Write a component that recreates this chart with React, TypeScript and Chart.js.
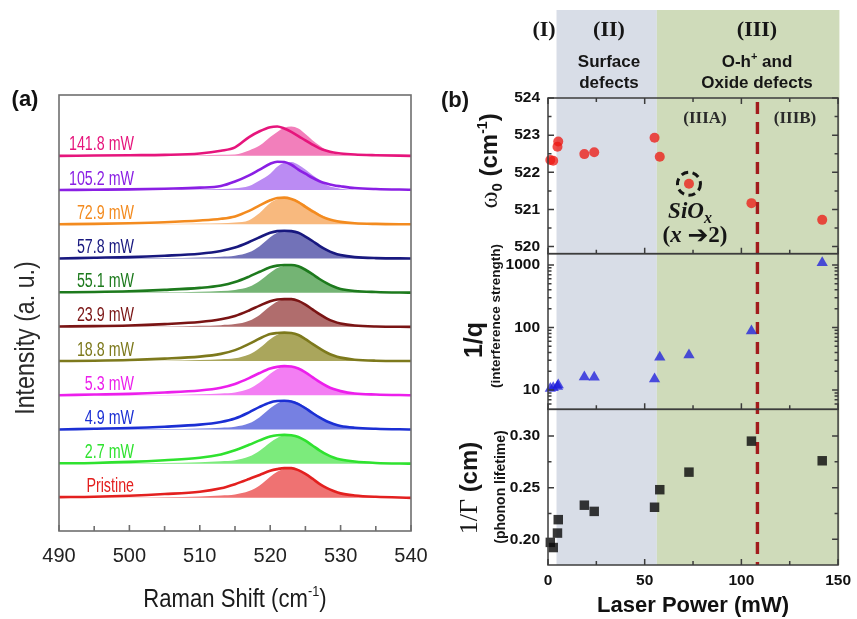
import React, { useEffect, useRef } from 'react';
import { Chart, registerables } from 'chart.js';

Chart.register(...registerables);

const W = 857;
const H = 619;

// ================= Panel (a): Raman spectra =================
const ramanShift = [490, 495, 500, 505, 510, 513, 515, 517, 518.5, 520, 521, 522, 523, 524, 525, 526, 527, 528, 529, 530, 532, 535, 540];
const ramanTicks = [490, 500, 510, 520, 530, 540];
const ramanMinorTicks = [495, 505, 515, 525, 535];

const traceLabels = ['Pristine', '2.7 mW', '4.9 mW', '5.3 mW', '18.8 mW', '23.9 mW', '55.1 mW', '57.8 mW', '72.9 mW', '105.2 mW', '141.8 mW'];
const traceLineColors = ['#e3201f', '#2fe22f', '#1b2fd4', '#ec1fec', '#7d791c', '#7a1414', '#1d7a1d', '#18187f', '#f38b1f', '#8a1fe4', '#e6157c'];
const traceFillColors = ['#ef7272', '#7ceb7c', '#7680e2', '#f37ef3', '#aaa65c', '#b06d6d', '#74b474', '#7272b8', '#f8b97e', '#bb8bf3', '#f27fbb'];

// measured spectra (line) and fitted components (filled), in units of trace spacing
const specPristine = [0.02, 0.03, 0.06, 0.11, 0.18, 0.28, 0.40, 0.55, 0.67, 0.79, 0.84, 0.87, 0.87, 0.81, 0.70, 0.56, 0.41, 0.29, 0.20, 0.13, 0.07, 0.03, 0.00];
const fitPristine = [0.00, 0.01, 0.01, 0.02, 0.04, 0.07, 0.10, 0.20, 0.36, 0.62, 0.76, 0.85, 0.87, 0.82, 0.71, 0.57, 0.42, 0.29, 0.19, 0.12, 0.05, 0.02, 0.00];
const spec2p7 = [0.01, 0.02, 0.05, 0.10, 0.17, 0.27, 0.39, 0.55, 0.68, 0.79, 0.83, 0.84, 0.83, 0.78, 0.67, 0.53, 0.39, 0.27, 0.18, 0.12, 0.06, 0.02, 0.00];
const fit2p7 = [0.00, 0.00, 0.01, 0.02, 0.04, 0.07, 0.10, 0.21, 0.38, 0.62, 0.75, 0.83, 0.84, 0.80, 0.69, 0.55, 0.41, 0.28, 0.18, 0.11, 0.05, 0.02, 0.00];
const spec4p9 = [0.00, 0.02, 0.04, 0.08, 0.14, 0.22, 0.32, 0.50, 0.66, 0.79, 0.83, 0.84, 0.82, 0.74, 0.62, 0.48, 0.35, 0.24, 0.16, 0.10, 0.05, 0.02, 0.00];
const fit4p9 = [0.00, 0.00, 0.01, 0.01, 0.03, 0.05, 0.08, 0.18, 0.36, 0.62, 0.76, 0.83, 0.84, 0.78, 0.66, 0.52, 0.38, 0.26, 0.17, 0.10, 0.04, 0.01, 0.00];
const spec5p3 = [0.00, 0.02, 0.04, 0.08, 0.14, 0.22, 0.33, 0.50, 0.65, 0.78, 0.83, 0.85, 0.84, 0.78, 0.67, 0.53, 0.39, 0.27, 0.18, 0.12, 0.05, 0.02, 0.00];
const fit5p3 = [0.00, 0.00, 0.01, 0.01, 0.03, 0.05, 0.08, 0.19, 0.37, 0.63, 0.77, 0.84, 0.85, 0.80, 0.69, 0.55, 0.40, 0.28, 0.18, 0.11, 0.04, 0.01, 0.00];
const spec18p8 = [0.00, 0.01, 0.03, 0.07, 0.13, 0.21, 0.32, 0.50, 0.66, 0.79, 0.82, 0.83, 0.82, 0.76, 0.64, 0.50, 0.37, 0.25, 0.16, 0.10, 0.04, 0.01, 0.00];
const fit18p8 = [0.00, 0.00, 0.00, 0.01, 0.03, 0.05, 0.08, 0.19, 0.38, 0.64, 0.77, 0.82, 0.83, 0.78, 0.66, 0.52, 0.38, 0.26, 0.17, 0.10, 0.04, 0.01, 0.00];
const spec23p9 = [0.01, 0.02, 0.04, 0.08, 0.14, 0.22, 0.32, 0.48, 0.62, 0.75, 0.80, 0.81, 0.81, 0.76, 0.65, 0.51, 0.37, 0.25, 0.16, 0.10, 0.04, 0.01, 0.00];
const fit23p9 = [0.00, 0.00, 0.01, 0.01, 0.03, 0.05, 0.08, 0.18, 0.35, 0.60, 0.74, 0.80, 0.81, 0.78, 0.67, 0.53, 0.39, 0.27, 0.17, 0.10, 0.04, 0.01, 0.00];
const spec55p1 = [0.01, 0.02, 0.04, 0.08, 0.14, 0.21, 0.31, 0.47, 0.61, 0.74, 0.79, 0.81, 0.81, 0.77, 0.67, 0.54, 0.40, 0.28, 0.18, 0.11, 0.05, 0.02, 0.00];
const fit55p1 = [0.00, 0.00, 0.01, 0.01, 0.03, 0.05, 0.08, 0.17, 0.34, 0.58, 0.72, 0.79, 0.81, 0.78, 0.69, 0.56, 0.42, 0.29, 0.19, 0.11, 0.05, 0.01, 0.00];
const spec57p8 = [0.00, 0.02, 0.04, 0.08, 0.14, 0.22, 0.32, 0.48, 0.62, 0.75, 0.80, 0.81, 0.80, 0.75, 0.64, 0.51, 0.37, 0.25, 0.16, 0.10, 0.04, 0.01, 0.00];
const fit57p8 = [0.00, 0.00, 0.01, 0.01, 0.03, 0.05, 0.08, 0.18, 0.36, 0.62, 0.75, 0.80, 0.81, 0.76, 0.65, 0.52, 0.38, 0.26, 0.17, 0.10, 0.04, 0.01, 0.00];
const spec72p9 = [0.00, 0.01, 0.03, 0.06, 0.11, 0.16, 0.23, 0.39, 0.55, 0.70, 0.77, 0.78, 0.74, 0.65, 0.51, 0.38, 0.26, 0.17, 0.11, 0.07, 0.03, 0.01, 0.00];
const fit72p9 = [0.00, 0.00, 0.00, 0.01, 0.02, 0.03, 0.05, 0.12, 0.33, 0.62, 0.73, 0.78, 0.76, 0.68, 0.56, 0.43, 0.30, 0.20, 0.12, 0.07, 0.02, 0.00, 0.00];
const spec105p2 = [0.00, 0.01, 0.02, 0.04, 0.07, 0.12, 0.25, 0.43, 0.60, 0.77, 0.83, 0.82, 0.74, 0.60, 0.48, 0.36, 0.26, 0.19, 0.14, 0.11, 0.06, 0.03, 0.01];
const fit105p2 = [0.00, 0.00, 0.00, 0.01, 0.02, 0.03, 0.05, 0.12, 0.28, 0.48, 0.68, 0.80, 0.82, 0.74, 0.60, 0.44, 0.30, 0.15, 0.08, 0.04, 0.01, 0.00, 0.00];
const spec141p8 = [0.00, 0.01, 0.02, 0.03, 0.07, 0.15, 0.25, 0.55, 0.72, 0.84, 0.86, 0.80, 0.70, 0.58, 0.45, 0.33, 0.22, 0.15, 0.10, 0.07, 0.04, 0.02, 0.00];
const fit141p8 = [0.00, 0.00, 0.00, 0.01, 0.02, 0.03, 0.04, 0.16, 0.30, 0.55, 0.70, 0.82, 0.86, 0.80, 0.64, 0.46, 0.30, 0.16, 0.07, 0.03, 0.01, 0.00, 0.00];

const spectra = [specPristine, spec2p7, spec4p9, spec5p3, spec18p8, spec23p9, spec55p1, spec57p8, spec72p9, spec105p2, spec141p8];
const fits = [fitPristine, fit2p7, fit4p9, fit5p3, fit18p8, fit23p9, fit55p1, fit57p8, fit72p9, fit105p2, fit141p8];

// ================= Panel (b): fit parameters vs laser power =================
const laserPower = [1.2, 2.7, 4.9, 5.3, 18.8, 23.9, 55.1, 57.8, 72.9, 105.2, 141.8];
const omega0 = [522.33, 522.31, 522.69, 522.83, 522.49, 522.54, 522.93, 522.42, 521.69, 521.17, 520.72];
const inverseQ = [10.6, 10.9, 11.4, 12.0, 16.2, 16.0, 15.0, 33.4, 36.3, 88, 1090];
const inverseGamma = [0.197, 0.192, 0.206, 0.219, 0.233, 0.227, 0.231, 0.248, 0.265, 0.295, 0.276];

const powerTicks = [0, 50, 100, 150];
const powerMinorTicks = [25, 75, 125];
const omegaTicks = [520, 521, 522, 523, 524];
const omegaMinorTicks = [520.5, 521.5, 522.5, 523.5];
const qTicks = [10, 100, 1000];
const qMinorTicks = [5, 6, 7, 8, 9, 20, 30, 40, 50, 60, 70, 80, 90, 200, 300, 400, 500, 600, 700, 800, 900];
const gammaTicks = [0.2, 0.25, 0.3];
const gammaMinorTicks = [0.225, 0.275];
const regionEdges = [4.4, 56.3, 150.7];
const regimeSplit = 108.3;
const highlightIndex = 8;

const SANS = '"Liberation Sans", Arial, sans-serif';
const SERIF = '"Liberation Serif", "Times New Roman", serif';

function fontAvailable(name: string) {
  const c = document.createElement('canvas').getContext('2d') as CanvasRenderingContext2D;
  const s = 'abcdefghijklmnopqrstuvwxyz0123456789 ABCDEFGHIJ';
  c.font = '40px monospace';
  const a = c.measureText(s).width;
  c.font = `40px "${name}", monospace`;
  const b = c.measureText(s).width;
  return Math.abs(a - b) > 0.5;
}

type Seg = { t: string; f: string; dy?: number };
function drawRich(ctx: CanvasRenderingContext2D, x: number, y: number, rot: number, segs: Seg[], color = '#151515', sx = 1) {
  ctx.save();
  ctx.translate(x, y);
  ctx.rotate(rot);
  ctx.scale(sx, 1);
  ctx.fillStyle = color;
  ctx.textBaseline = 'alphabetic';
  ctx.textAlign = 'left';
  let total = 0;
  for (const s of segs) { ctx.font = s.f; total += ctx.measureText(s.t).width; }
  let cx = -total / 2;
  for (const s of segs) {
    ctx.font = s.f;
    ctx.fillText(s.t, cx, s.dy || 0);
    cx += ctx.measureText(s.t).width;
  }
  ctx.restore();
}

export default function App() {
  const refA = useRef<HTMLCanvasElement>(null);
  const refB = useRef<HTMLCanvasElement>(null);

  useEffect(() => {
    const hasNarrow = fontAvailable('Liberation Sans Narrow');
    const NARROW = hasNarrow ? '"Liberation Sans Narrow", "Liberation Sans", sans-serif' : SANS;
    const nsx = hasNarrow ? 1 : 0.82;

    // ---------- chart (a) ----------
    const datasetsA: any[] = [];
    spectra.forEach((arr, i) => {
      datasetsA.push({
        label: traceLabels[i],
        data: ramanShift.map((x, k) => ({ x, y: i + arr[k] })),
        borderColor: traceLineColors[i],
        borderWidth: 2.6,
        pointRadius: 0,
        fill: false,
        cubicInterpolationMode: 'monotone',
        order: 0,
      });
    });
    fits.forEach((arr, i) => {
      datasetsA.push({
        label: traceLabels[i] + ' fit',
        data: ramanShift.map((x, k) => ({ x, y: i + arr[k] })),
        borderColor: 'rgba(0,0,0,0)',
        borderWidth: 0,
        backgroundColor: traceFillColors[i],
        pointRadius: 0,
        fill: { value: i },
        cubicInterpolationMode: 'monotone',
        order: 1,
      });
    });

    const plotA = {
      id: 'plotA',
      afterDraw(chart: any) {
        const { ctx, chartArea: ca, scales } = chart;
        const x = scales.x, y = scales.y;
        ctx.save();
        ctx.strokeStyle = '#6f6f6f';
        ctx.lineWidth = 1.6;
        ctx.strokeRect(ca.left, ca.top, ca.right - ca.left, ca.bottom - ca.top);
        ctx.beginPath();
        for (const v of ramanTicks) { const px = x.getPixelForValue(v); ctx.moveTo(px, ca.bottom); ctx.lineTo(px, ca.bottom - 6); }
        for (const v of ramanMinorTicks) { const px = x.getPixelForValue(v); ctx.moveTo(px, ca.bottom); ctx.lineTo(px, ca.bottom - 5); }
        ctx.stroke();
        // trace labels
        traceLabels.forEach((t, i) => {
          const py = y.getPixelForValue(i) - 5.5;
          ctx.save();
          ctx.translate(134, py);
          ctx.scale(0.87 * nsx, 1);
          ctx.font = `20px ${NARROW}`;
          ctx.textAlign = 'right';
          ctx.textBaseline = 'alphabetic';
          ctx.fillStyle = traceLineColors[i];
          ctx.fillText(t, 0, 0);
          ctx.restore();
        });
        // axis titles
        drawRich(ctx, 34, 338, -Math.PI / 2, [{ t: 'Intensity (a. u.)', f: `27px ${NARROW}` }], '#2a2a2a', hasNarrow ? 1 : 0.86);
        drawRich(ctx, 235, 607, 0, [
          { t: 'Raman Shift (cm', f: `26px ${NARROW}` },
          { t: '-1', f: `15px ${NARROW}`, dy: -11 },
          { t: ')', f: `26px ${NARROW}` },
        ], '#1a1a1a', hasNarrow ? 1 : 0.85);
        drawRich(ctx, 25, 106, 0, [{ t: '(a)', f: `bold 22px ${SANS}` }], '#111');
        ctx.restore();
      },
    };

    const chartA = new Chart(refA.current as HTMLCanvasElement, {
      type: 'line',
      data: { datasets: datasetsA },
      options: {
        responsive: false,
        animation: false,
        devicePixelRatio: 1,
        events: [],
        layout: { padding: { left: 59, top: 95, right: 446, bottom: 0 } },
        plugins: { legend: { display: false }, tooltip: { enabled: false } },
        scales: {
          x: {
            type: 'linear',
            min: 490,
            max: 540,
            afterBuildTicks: (s: any) => { s.ticks = ramanTicks.map((v) => ({ value: v })); },
            ticks: { font: { family: NARROW, size: hasNarrow ? 22 : 20 }, color: '#222', padding: 13, autoSkip: false, maxRotation: 0 },
            grid: { display: false, drawTicks: false },
            border: { display: false },
            afterFit: (s: any) => { s.height = 88; },
          },
          y: {
            type: 'linear',
            display: false,
            min: -0.97,
            max: 11.78,
          },
        },
      } as any,
      plugins: [plotA],
    });

    // ---------- chart (b) ----------
    const plotB = {
      id: 'plotB',
      beforeDraw(chart: any) {
        const { ctx, chartArea: ca, scales } = chart;
        const x = scales.x;
        const a = x.getPixelForValue(regionEdges[0]);
        const b = x.getPixelForValue(regionEdges[1]);
        const c = x.getPixelForValue(regionEdges[2]);
        ctx.save();
        ctx.fillStyle = '#d8dde7';
        ctx.fillRect(a, 10, b - a, ca.bottom - 10);
        ctx.fillStyle = '#cfdbba';
        ctx.fillRect(b, 10, c - b, ca.bottom - 10);
        ctx.restore();
      },
      beforeDatasetsDraw(chart: any) {
        const { ctx, chartArea: ca, scales } = chart;
        const px = scales.x.getPixelForValue(regimeSplit);
        ctx.save();
        ctx.strokeStyle = '#a21c1c';
        ctx.lineWidth = 3.4;
        ctx.setLineDash([12, 8]);
        ctx.lineDashOffset = -4;
        ctx.beginPath();
        ctx.moveTo(px, ca.top);
        ctx.lineTo(px, ca.bottom);
        ctx.stroke();
        ctx.restore();
      },
      afterDatasetsDraw(chart: any) {
        const { ctx, chartArea: ca, scales } = chart;
        const x = scales.x;
        const panels = [
          { s: scales.yW, major: omegaTicks, minor: omegaMinorTicks },
          { s: scales.yQ, major: qTicks, minor: qMinorTicks },
          { s: scales.yG, major: gammaTicks, minor: gammaMinorTicks },
        ];
        ctx.save();
        ctx.strokeStyle = '#3c3c3c';
        ctx.lineWidth = 1.5;
        panels.forEach((p, idx) => {
          const top = p.s.top, bot = p.s.bottom;
          ctx.strokeRect(ca.left, top, ca.right - ca.left, bot - top);
          ctx.beginPath();
          for (const v of powerTicks) { const px = x.getPixelForValue(v); ctx.moveTo(px, bot); ctx.lineTo(px, bot - 6); if (idx === 0) { ctx.moveTo(px, top); ctx.lineTo(px, top + 6); } }
          for (const v of powerMinorTicks) { const px = x.getPixelForValue(v); ctx.moveTo(px, bot); ctx.lineTo(px, bot - 4); if (idx === 0) { ctx.moveTo(px, top); ctx.lineTo(px, top + 4); } }
          for (const v of p.major) { const py = p.s.getPixelForValue(v); if (py < top - 0.5 || py > bot + 0.5) continue; ctx.moveTo(ca.left, py); ctx.lineTo(ca.left + 6, py); ctx.moveTo(ca.right, py); ctx.lineTo(ca.right - 6, py); }
          for (const v of p.minor) { const py = p.s.getPixelForValue(v); if (py < top + 1 || py > bot - 1) continue; ctx.moveTo(ca.left, py); ctx.lineTo(ca.left + 3.5, py); ctx.moveTo(ca.right, py); ctx.lineTo(ca.right - 3.5, py); }
          ctx.stroke();
        });
        // dashed circle around SiOx point
        const hx = x.getPixelForValue(laserPower[highlightIndex]);
        const hy = scales.yW.getPixelForValue(omega0[highlightIndex]);
        ctx.strokeStyle = '#141414';
        ctx.lineWidth = 3;
        ctx.setLineDash([7, 4.5]);
        ctx.beginPath();
        ctx.arc(hx, hy, 11.5, 0, Math.PI * 2);
        ctx.stroke();
        ctx.setLineDash([]);
        ctx.restore();
      },
      afterDraw(chart: any) {
        const { ctx } = chart;
        const ink = '#161616';
        // header
        drawRich(ctx, 544, 36, 0, [{ t: '(I)', f: `bold 22px ${SERIF}` }], ink);
        drawRich(ctx, 609, 36, 0, [{ t: '(II)', f: `bold 22px ${SERIF}` }], ink);
        drawRich(ctx, 757, 36, 0, [{ t: '(III)', f: `bold 22px ${SERIF}` }], ink);
        drawRich(ctx, 609, 67, 0, [{ t: 'Surface', f: `bold 17px ${SANS}` }], ink);
        drawRich(ctx, 609, 88, 0, [{ t: 'defects', f: `bold 17px ${SANS}` }], ink);
        drawRich(ctx, 757, 67, 0, [
          { t: 'O-h', f: `bold 17px ${SANS}` },
          { t: '+', f: `bold 11px ${SANS}`, dy: -7 },
          { t: ' and', f: `bold 17px ${SANS}` },
        ], ink);
        drawRich(ctx, 757, 88, 0, [{ t: 'Oxide defects', f: `bold 17px ${SANS}` }], ink);
        drawRich(ctx, 455, 107, 0, [{ t: '(b)', f: `bold 22px ${SANS}` }], ink);
        drawRich(ctx, 705, 123, 0, [{ t: '(IIIA)', f: `bold 17px ${SERIF}` }], '#2a2a2a');
        drawRich(ctx, 795, 123, 0, [{ t: '(IIIB)', f: `bold 17px ${SERIF}` }], '#2a2a2a');
        drawRich(ctx, 690, 218, 0, [
          { t: 'SiO', f: `italic bold 23px ${SERIF}` },
          { t: 'x', f: `italic bold 16px ${SERIF}`, dy: 5 },
        ], ink);
        drawRich(ctx, 695, 242, 0, [
          { t: '(', f: `bold 23px ${SERIF}` },
          { t: 'x ', f: `italic bold 23px ${SERIF}` },
          { t: '➔', f: `bold 25px "DejaVu Sans", sans-serif`, dy: 1 },
          { t: '2)', f: `bold 23px ${SERIF}` },
        ], ink);
        // y-axis titles
        drawRich(ctx, 497, 161, -Math.PI / 2, [
          { t: 'ω', f: `26px ${SERIF}` },
          { t: '0', f: `bold 15px ${SANS}`, dy: 5 },
          { t: ' (cm', f: `bold 24px ${SANS}` },
          { t: '-1', f: `bold 14px ${SANS}`, dy: -10 },
          { t: ')', f: `bold 24px ${SANS}` },
        ], ink);
        drawRich(ctx, 482, 340, -Math.PI / 2, [{ t: '1/q', f: `bold 25px ${SANS}` }], ink);
        drawRich(ctx, 500, 316, -Math.PI / 2, [{ t: '(interference strength)', f: `bold 13.5px ${SANS}` }], ink);
        drawRich(ctx, 477, 488, -Math.PI / 2, [
          { t: '1/Γ', f: `26px ${SERIF}` },
          { t: ' (cm)', f: `bold 24px ${SANS}` },
        ], ink);
        drawRich(ctx, 505, 487, -Math.PI / 2, [{ t: '(phonon lifetime)', f: `bold 14px ${SANS}` }], ink);
      },
    };

    const tickFontB = { family: NARROW, size: hasNarrow ? 17 : 15.5, weight: 'bold' };
    const yWidth = (s: any) => { s.width = 548; };

    const chartB = new Chart(refB.current as HTMLCanvasElement, {
      type: 'scatter',
      data: {
        datasets: [
          {
            label: 'omega0',
            data: laserPower.map((p, i) => ({ x: p, y: omega0[i] })),
            yAxisID: 'yW',
            pointStyle: 'circle',
            pointRadius: 5,
            backgroundColor: 'rgba(236,24,18,0.76)',
            borderWidth: 0,
            clip: false,
          },
          {
            label: '1/q',
            data: laserPower.map((p, i) => ({ x: p, y: inverseQ[i] })),
            yAxisID: 'yQ',
            pointStyle: 'triangle',
            pointRadius: 6.5,
            backgroundColor: 'rgba(28,28,220,0.76)',
            borderWidth: 0,
            clip: false,
          },
          {
            label: '1/Gamma',
            data: laserPower.map((p, i) => ({ x: p, y: inverseGamma[i] })),
            yAxisID: 'yG',
            pointStyle: 'rect',
            pointRadius: 6.7,
            backgroundColor: 'rgba(12,12,12,0.82)',
            borderWidth: 0,
            clip: false,
          },
        ],
      },
      options: {
        responsive: false,
        animation: false,
        devicePixelRatio: 1,
        events: [],
        layout: { padding: { left: 0, top: 98, right: 15.5, bottom: 0 } },
        plugins: { legend: { display: false }, tooltip: { enabled: false } },
        scales: {
          x: {
            type: 'linear',
            position: 'bottom',
            min: 0,
            max: 150,
            afterBuildTicks: (s: any) => { s.ticks = powerTicks.map((v) => ({ value: v })); },
            ticks: { font: tickFontB, color: '#111', padding: 6, autoSkip: false, maxRotation: 0 },
            grid: { display: false, drawTicks: false },
            border: { display: false },
            title: { display: true, text: 'Laser Power (mW)', font: { family: SANS, size: 22, weight: 'bold' }, color: '#111', padding: { top: 0, bottom: 0 } },
            afterFit: (s: any) => { s.height = 54; },
          },
          yG: {
            type: 'linear',
            position: 'left',
            stack: 'b',
            stackWeight: 1,
            min: 0.1751,
            max: 0.3258,
            afterBuildTicks: (s: any) => { s.ticks = gammaTicks.map((v) => ({ value: v })); },
            ticks: { font: tickFontB, color: '#111', padding: 8, autoSkip: false, callback: (v: any) => Number(v).toFixed(2) },
            grid: { display: false, drawTicks: false },
            border: { display: false },
            afterFit: yWidth,
          },
          yQ: {
            type: 'logarithmic',
            position: 'left',
            stack: 'b',
            stackWeight: 1,
            min: 4.91,
            max: 1517,
            afterBuildTicks: (s: any) => { s.ticks = qTicks.map((v) => ({ value: v })); },
            ticks: { font: tickFontB, color: '#111', padding: 8, autoSkip: false, callback: (v: any) => String(v) },
            grid: { display: false, drawTicks: false },
            border: { display: false },
            afterFit: yWidth,
          },
          yW: {
            type: 'linear',
            position: 'left',
            stack: 'b',
            stackWeight: 1,
            min: 519.81,
            max: 524,
            afterBuildTicks: (s: any) => { s.ticks = omegaTicks.map((v) => ({ value: v })); },
            ticks: { font: tickFontB, color: '#111', padding: 8, autoSkip: false, callback: (v: any) => String(v) },
            grid: { display: false, drawTicks: false },
            border: { display: false },
            afterFit: yWidth,
          },
        },
      } as any,
      plugins: [plotB],
    });

    return () => {
      chartA.destroy();
      chartB.destroy();
    };
  }, []);

  const cs: React.CSSProperties = { position: 'absolute', left: 0, top: 0, width: W, height: H };
  return (
    <div style={{ position: 'absolute', left: 0, top: 0, width: W, height: H, background: '#ffffff' }}>
      <canvas ref={refA} width={W} height={H} style={cs} />
      <canvas ref={refB} width={W} height={H} style={cs} />
    </div>
  );
}
